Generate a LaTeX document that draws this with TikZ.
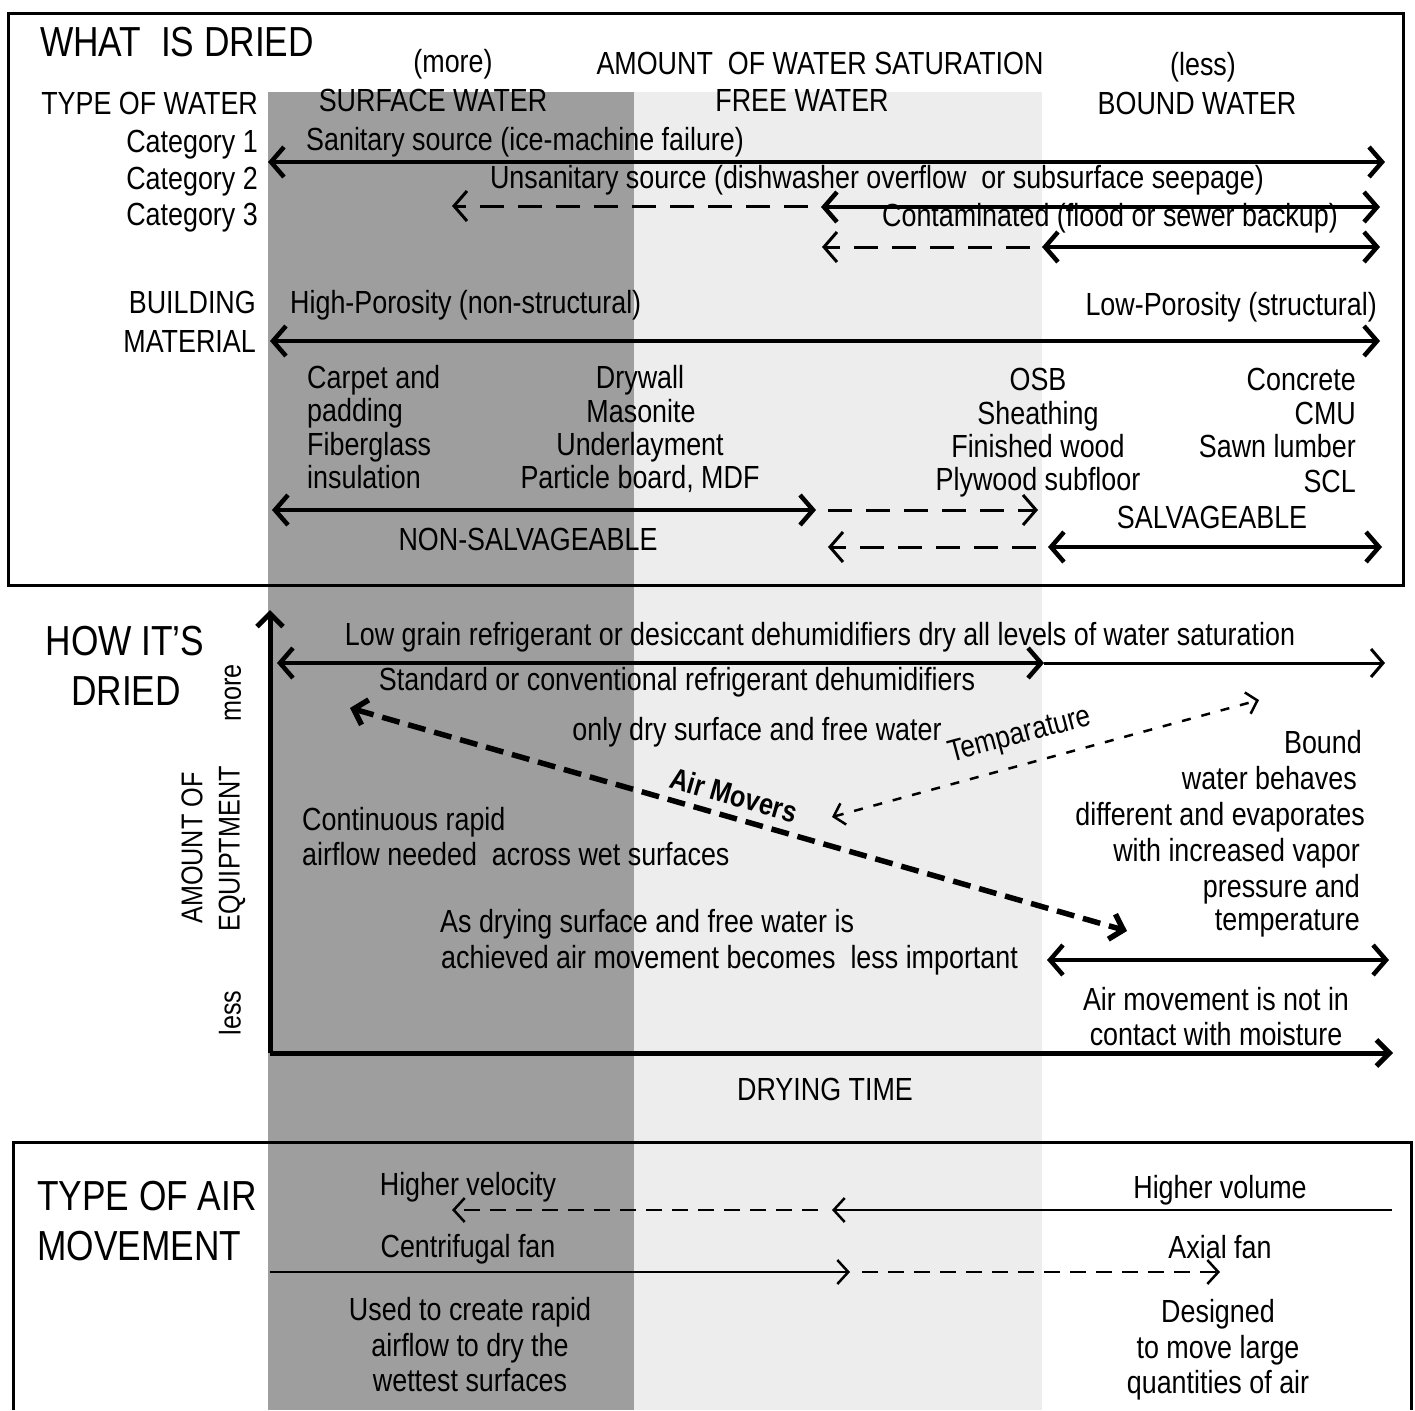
\documentclass[tikz,border=0pt]{standalone}
\usepackage{fontspec}
\setmainfont{Liberation Sans}[FakeStretch=0.84]
\usetikzlibrary{arrows.meta}
\begin{document}
\begin{tikzpicture}[x=1pt,y=-1pt,
  t/.style={inner sep=0pt, font=\fontsize{32}{38}\selectfont},
  h/.style={inner sep=0pt, font=\fontsize{42}{48}\selectfont},
  rt/.style={inner sep=0pt, font=\fontsize{30}{36}\selectfont, rotate=90},
  shadeD/.style={fill=black!38},
  shadeL/.style={fill=black!7},
  frame/.style={draw, line width=3pt},
  big/.style={line width=4.5pt, >={Straight Barb[length=13pt,width=30pt]}},
  med/.style={line width=3pt, >={Straight Barb[length=12pt,width=28pt]}},
  dsh/.style={line width=3pt, dash pattern=on 24pt off 14pt, >={Straight Barb[length=13pt,width=30pt]}},
  am/.style={line width=5.5pt, dash pattern=on 18pt off 9pt, >={Straight Barb[length=12pt,width=26pt]}},
  tp/.style={line width=2.5pt, dash pattern=on 9pt off 11pt, >={Straight Barb[length=10pt,width=22pt]}},
  thn/.style={line width=2.5pt, >={Straight Barb[length=11pt,width=24pt]}},
  thd/.style={thn, dash pattern=on 16pt off 10pt},
  axis/.style={line width=5pt, >={Straight Barb[length=13pt,width=26pt]}}
]
\useasboundingbox (0,0) rectangle (1415,1410);
\fill[white] (0,0) rectangle (1415,1410);
% background bands
\fill[shadeD] (268,92) rectangle (634,1410);
\fill[shadeL] (634,92) rectangle (1042,1410);
% frames
\draw[frame] (8,14) rectangle (1403,585);
\draw[frame] (13,1410) -- (13,1142) -- (1411,1142) -- (1411,1410);

% ---------- WHAT IS DRIED ----------
\node[h, anchor=base west] (whatdried) at (40,57) {WHAT\ \ IS DRIED};
\node[t, anchor=base] (more) at (453,73) {(more)};
\node[t, anchor=base] (amount) at (820,75) {AMOUNT\ \ OF WATER SATURATION};
\node[t, anchor=base] (less) at (1203,76) {(less)};
\node[t, anchor=base east] (typew) at (258,115) {TYPE OF WATER};
\node[t, anchor=base] (surf) at (433,112) {SURFACE WATER};
\node[t, anchor=base] (free) at (802,112) {FREE WATER};
\node[t, anchor=base] (boundw) at (1197,114) {BOUND WATER};
\node[t, anchor=base east] (cat1) at (258,152) {Category 1};
\node[t, anchor=base east] (cat2) at (258,189) {Category 2};
\node[t, anchor=base east] (cat3) at (258,225) {Category 3};
\node[t, anchor=base west] (san) at (306,150) {Sanitary source (ice-machine failure)};
\node[t, anchor=base] (unsan) at (877,188) {Unsanitary source (dishwasher overflow\ \ or subsurface seepage)};

\coordinate (a1l) at (268,162); \coordinate (a1r) at (1385,162);
\draw[big,<->] (a1l) -- (a1r);
\coordinate (a2l) at (452,206); \coordinate (a2d) at (808,206);
\coordinate (a2m) at (821,207); \coordinate (a2r) at (1380,207);
\draw[dsh,->] (a2d) -- (a2l);
\draw[big,<->] (a2m) -- (a2r);
\node[t, anchor=base] (cont) at (1110,226) {Contaminated (flood or sewer backup)};
\coordinate (a3l) at (822,247); \coordinate (a3d) at (1030,247);
\coordinate (a3m) at (1042,247); \coordinate (a3r) at (1380,247);
\draw[dsh,->] (a3d) -- (a3l);
\draw[big,<->] (a3m) -- (a3r);

\node[t, anchor=base east] (build) at (256,313) {BUILDING};
\node[t, anchor=base east] (mat) at (256,352) {MATERIAL};
\node[t, anchor=base west] (hip) at (290,313) {High-Porosity (non-structural)};
\node[t, anchor=base east] (lop) at (1377,315) {Low-Porosity (structural)};
\coordinate (a4l) at (270,341); \coordinate (a4r) at (1380,341);
\draw[big,<->] (a4l) -- (a4r);

\node[t, anchor=base west] (m11) at (307,388) {Carpet and};
\node[t, anchor=base west] (m12) at (307,421) {padding};
\node[t, anchor=base west] (m13) at (307,455) {Fiberglass};
\node[t, anchor=base west] (m14) at (307,488) {insulation};
\node[t, anchor=base] (m21) at (640,388) {Drywall};
\node[t, anchor=base] (m22) at (641,422) {Masonite};
\node[t, anchor=base] (m23) at (640,455) {Underlayment};
\node[t, anchor=base] (m24) at (640,488) {Particle board, MDF};
\node[t, anchor=base] (m31) at (1038,390) {OSB};
\node[t, anchor=base] (m32) at (1038,424) {Sheathing};
\node[t, anchor=base] (m33) at (1038,457) {Finished wood};
\node[t, anchor=base] (m34) at (1038,490) {Plywood subfloor};
\node[t, anchor=base east] (m41) at (1356,390) {Concrete};
\node[t, anchor=base east] (m42) at (1356,424) {CMU};
\node[t, anchor=base east] (m43) at (1356,457) {Sawn lumber};
\node[t, anchor=base east] (m44) at (1356,492) {SCL};

\coordinate (a5l) at (272,510); \coordinate (a5m) at (816,510);
\coordinate (a5d) at (828,510); \coordinate (a5r) at (1038,510);
\draw[big,<->] (a5l) -- (a5m);
\draw[dsh,->] (a5d) -- (a5r);
\node[t, anchor=base] (salv) at (1212,528) {SALVAGEABLE};
\node[t, anchor=base] (nonsalv) at (528,550) {NON-SALVAGEABLE};
\coordinate (a6l) at (828,547); \coordinate (a6d) at (1036,547);
\coordinate (a6m) at (1048,547); \coordinate (a6r) at (1382,547);
\draw[dsh,->] (a6d) -- (a6l);
\draw[big,<->] (a6m) -- (a6r);

% ---------- HOW IT'S DRIED ----------
\node[h, anchor=base] (how) at (125,655) {HOW IT’S};
\node[h, anchor=base] (dried) at (126,705) {DRIED};
\node[rt] (vmore) at (233,693) {more};
\node[rt] (vamount) at (192,848) {AMOUNT OF};
\node[rt] (vequip) at (232,849) {EQUIPTMENT};
\node[rt] (vless) at (230,1013) {less};

\coordinate (org) at (270,1053); \coordinate (ytop) at (270,610);
\coordinate (xend) at (1393,1053);
\draw[axis,->] (org) -- (ytop);
\draw[axis,->] (org) -- (xend);

\node[t, anchor=base] (lowgrain) at (820,645) {Low grain refrigerant or desiccant dehumidifiers dry all levels of water saturation};
\coordinate (a7l) at (277,663); \coordinate (a7m) at (1044,663); \coordinate (a7r) at (1385,663);
\draw[big,<->] (a7l) -- (a7m);
\draw[med,->] (a7m) -- (a7r);
\node[t, anchor=base] (standard) at (677,690) {Standard or conventional refrigerant dehumidifiers};
\node[t, anchor=base] (onlydry) at (757,740) {only dry surface and free water};

\coordinate (amL) at (350,708); \coordinate (amR) at (1127,931);
\draw[am,<->] (amL) -- (amR);
\node[inner sep=0pt, font=\fontsize{30}{34}\selectfont\bfseries, rotate=-16] (airmovers) at (734,795) {Air Movers};
\coordinate (tpL) at (832,817); \coordinate (tpR) at (1259,700);
\draw[tp,<->] (tpL) -- (tpR);
\node[inner sep=0pt, font=\fontsize{31}{34}\selectfont, rotate=15] (temp) at (1020,736) {Temparature};

\node[t, anchor=base west] (cont1) at (302,830) {Continuous rapid};
\node[t, anchor=base west] (cont2) at (302,865) {airflow needed\ \ across wet surfaces};
\node[t, anchor=base east] (b1) at (1362,753) {Bound};
\node[t, anchor=base east] (b2) at (1357,789) {water behaves};
\node[t, anchor=base east] (b3) at (1365,825) {different and evaporates};
\node[t, anchor=base east] (b4) at (1360,861) {with increased vapor};
\node[t, anchor=base east] (b5) at (1360,897) {pressure and};
\node[t, anchor=base east] (b6) at (1360,930) {temperature};
\node[t, anchor=base west] (as1) at (440,932) {As drying surface and free water is};
\node[t, anchor=base west] (as2) at (441,968) {achieved air movement becomes\ \ less important};
\coordinate (a8l) at (1047,960); \coordinate (a8r) at (1389,960);
\draw[big,<->] (a8l) -- (a8r);
\node[t, anchor=base] (nc1) at (1216,1010) {Air movement is not in};
\node[t, anchor=base] (nc2) at (1216,1045) {contact with moisture};
\node[t, anchor=base] (drytime) at (825,1100) {DRYING TIME};

% ---------- TYPE OF AIR MOVEMENT ----------
\node[h, anchor=base west] (typeair) at (37,1210) {TYPE OF AIR};
\node[h, anchor=base west] (movement) at (37,1260) {MOVEMENT};
\node[t, anchor=base] (hvel) at (468,1195) {Higher velocity};
\node[t, anchor=base] (hvol) at (1220,1198) {Higher volume};
\coordinate (a9r) at (1392,1210); \coordinate (a9m) at (832,1210);
\coordinate (a9d) at (818,1210); \coordinate (a9l) at (452,1210);
\draw[thn,->] (a9r) -- (a9m);
\draw[thd,->] (a9d) -- (a9l);
\node[t, anchor=base] (centri) at (468,1257) {Centrifugal fan};
\node[t, anchor=base] (axial) at (1220,1258) {Axial fan};
\coordinate (a10l) at (270,1272); \coordinate (a10m) at (850,1272);
\coordinate (a10d) at (862,1272); \coordinate (a10r) at (1220,1272);
\draw[thn,->] (a10l) -- (a10m);
\draw[thd,->] (a10d) -- (a10r);
\node[t, anchor=base] (u1) at (470,1320) {Used to create rapid};
\node[t, anchor=base] (u2) at (470,1356) {airflow to dry the};
\node[t, anchor=base] (u3) at (470,1391) {wettest surfaces};
\node[t, anchor=base] (d1) at (1218,1322) {Designed};
\node[t, anchor=base] (d2) at (1218,1358) {to move large};
\node[t, anchor=base] (d3) at (1218,1393) {quantities of air};
\end{tikzpicture}
\end{document}
